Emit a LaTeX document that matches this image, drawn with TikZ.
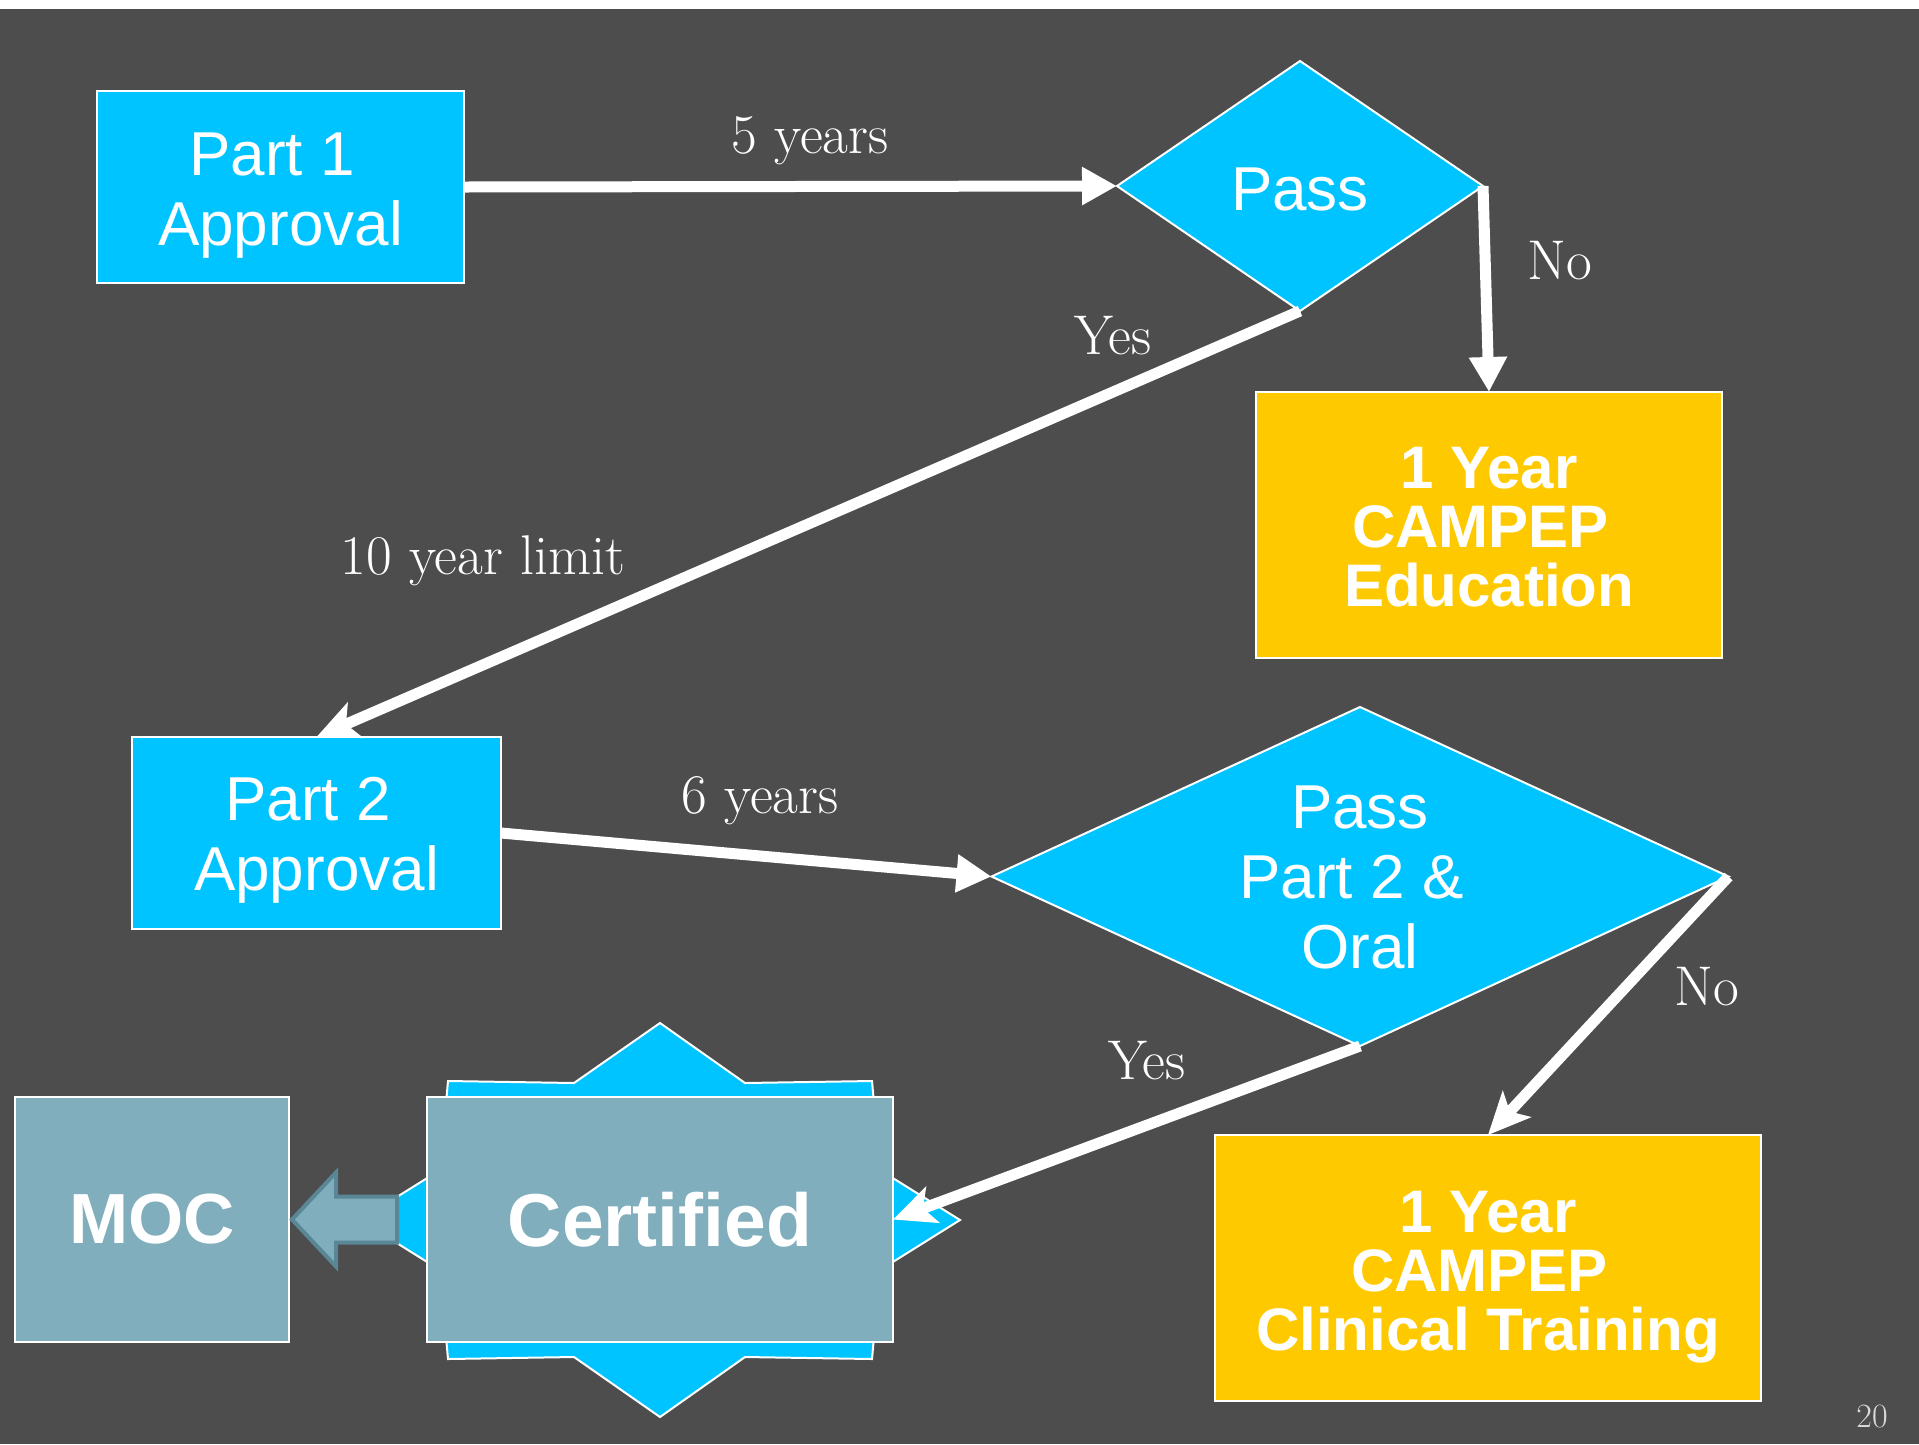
\documentclass[tikz,border=0pt]{standalone}
\usepackage{fontspec}
\newfontfamily\sansf{Liberation Sans}
\usetikzlibrary{arrows.meta,shapes.geometric,calc}
\definecolor{bg}{HTML}{4D4D4D}
\definecolor{cyanb}{HTML}{00C4FF}
\definecolor{gold}{HTML}{FFC900}
\definecolor{steel}{HTML}{80AEBC}
\definecolor{steeldark}{HTML}{5A8796}
\definecolor{pnum}{HTML}{D9D9D9}
\begin{document}
\begin{tikzpicture}[x=1pt,y=-1pt,
  bluebox/.style={draw=white, line width=2pt, fill=cyanb, inner sep=0pt, outer sep=0pt},
  bluetext/.style={text=white, inner sep=0pt, align=center, font=\sansf\fontsize{62}{70}\selectfont},
  bluediamond/.style={diamond, draw=white, line width=2pt, fill=cyanb, inner sep=0pt, outer sep=0pt},
  goldbox/.style={draw=white, line width=2pt, fill=gold, inner sep=0pt, outer sep=0pt},
  goldtext/.style={text=white, inner sep=0pt, align=center, font=\sansf\bfseries\fontsize{60}{59}\selectfont},
  steelbox/.style={draw=white, line width=2pt, fill=steel, text=white, inner sep=0pt, outer sep=0pt,
    align=center, font=\sansf\bfseries\fontsize{71}{80}\selectfont},
  lbl/.style={text=white, inner sep=0pt, font=\fontsize{56}{64}\selectfont},
  conn/.style={draw=white, line width=11pt},
  tri/.style={-{Triangle[length=35pt,width=36pt]}},
  stl/.style={-{Stealth[length=42pt,width=38pt,inset=10pt]}}
]
\useasboundingbox (0,0) rectangle (1919,1444);
\fill[white] (0,0) rectangle (1919,9);
\fill[bg] (0,9) rectangle (1919,1444);

% nodes
\node[bluebox, minimum width=367pt, minimum height=192pt] (p1) at (280.5,187) {};
\node[bluetext] (p1t) at ($(p1.center)+(0,9)$) {Part 1\kern17pt\null\\Approval};
\node[bluediamond, minimum width=366pt, minimum height=250pt] (pass1) at (1300,186) {};
\node[bluetext] (pass1t) at ($(pass1.center)+(0,3)$) {Pass};
\node[goldbox, minimum width=466pt, minimum height=266pt] (edu) at (1489,525) {};
\node[goldtext] (edut) at ($(edu.center)+(0,2)$) {1 Year\\CAMPEP\kern17pt\null\\Education};
\node[bluebox, minimum width=369pt, minimum height=192pt] (p2) at (316.5,833) {};
\node[bluetext] (p2t) at ($(p2.center)+(0,7)$) {Part 2\kern17pt\null\\Approval};
\node[bluediamond, minimum width=737pt, minimum height=339pt] (pass2) at (1360,876.5) {};
\node[bluetext] (pass2t) at ($(pass2.center)+(0,1)$) {Pass\\Part 2 \&\kern17pt\null\\Oral};
\node[goldbox, minimum width=546pt, minimum height=266pt] (clin) at (1488,1268) {};
\node[goldtext] (clint) at ($(clin.center)+(0,9)$) {1 Year\\CAMPEP\kern17pt\null\\Clinical Training};

% star behind Certified
\filldraw[fill=cyanb, draw=white, line width=2pt]
  (448,1081) -- (574,1083) -- (660,1023) -- (745,1083) -- (872,1081) -- (880,1170) -- (960,1220)
  -- (880,1270) -- (872,1359) -- (745,1357) -- (660,1417) -- (574,1357) -- (448,1359)
  -- (440,1270) -- (360,1220) -- (440,1170) -- cycle;
\node[steelbox, minimum width=466pt, minimum height=245pt, font=\sansf\bfseries\fontsize{75}{80}\selectfont] (cert) at (660,1219.5) {Certified};
\node[steelbox, minimum width=274pt, minimum height=245pt] (moc) at (152,1219.5) {MOC};

% block arrow Certified -> MOC
\filldraw[fill=steel, draw=steeldark, line width=4pt, line join=miter]
  ($(moc.east)+(3,0)$) -- ++(44,-47) -- ++(0,24) -- ($(cert.west)+(-30,-23)$) -- ++(0,46)
  -- ($(moc.east)+(47,23)$) -- ++(0,24) -- cycle;

% connectors
\draw[conn, tri] (p1.east) -- (pass1.west);
\draw[conn, tri] (pass1.east) -- (edu.north);
\draw[conn, stl] (pass1.south) -- (p2.north);
\draw[conn, tri] (p2.east) -- (pass2.west);
\draw[conn, stl] (pass2.east) -- (clin.north);
\draw[conn, stl] (pass2.south) -- (cert.east);

% labels
\node[lbl] (l5) at (810,141) {5 years};
\node[lbl] (lno1) at (1560,261) {No};
\node[lbl] (lyes1) at (1113,336) {Yes};
\node[lbl] (l10) at (483,561) {10 year limit};
\node[lbl] (l6) at (760,801) {6 years};
\node[lbl] (lno2) at (1707,987) {No};
\node[lbl] (lyes2) at (1147,1061) {Yes};
\node[text=pnum, inner sep=0pt, font=\fontsize{34}{40}\selectfont] (pg) at (1872,1417) {20};
\end{tikzpicture}
\end{document}
